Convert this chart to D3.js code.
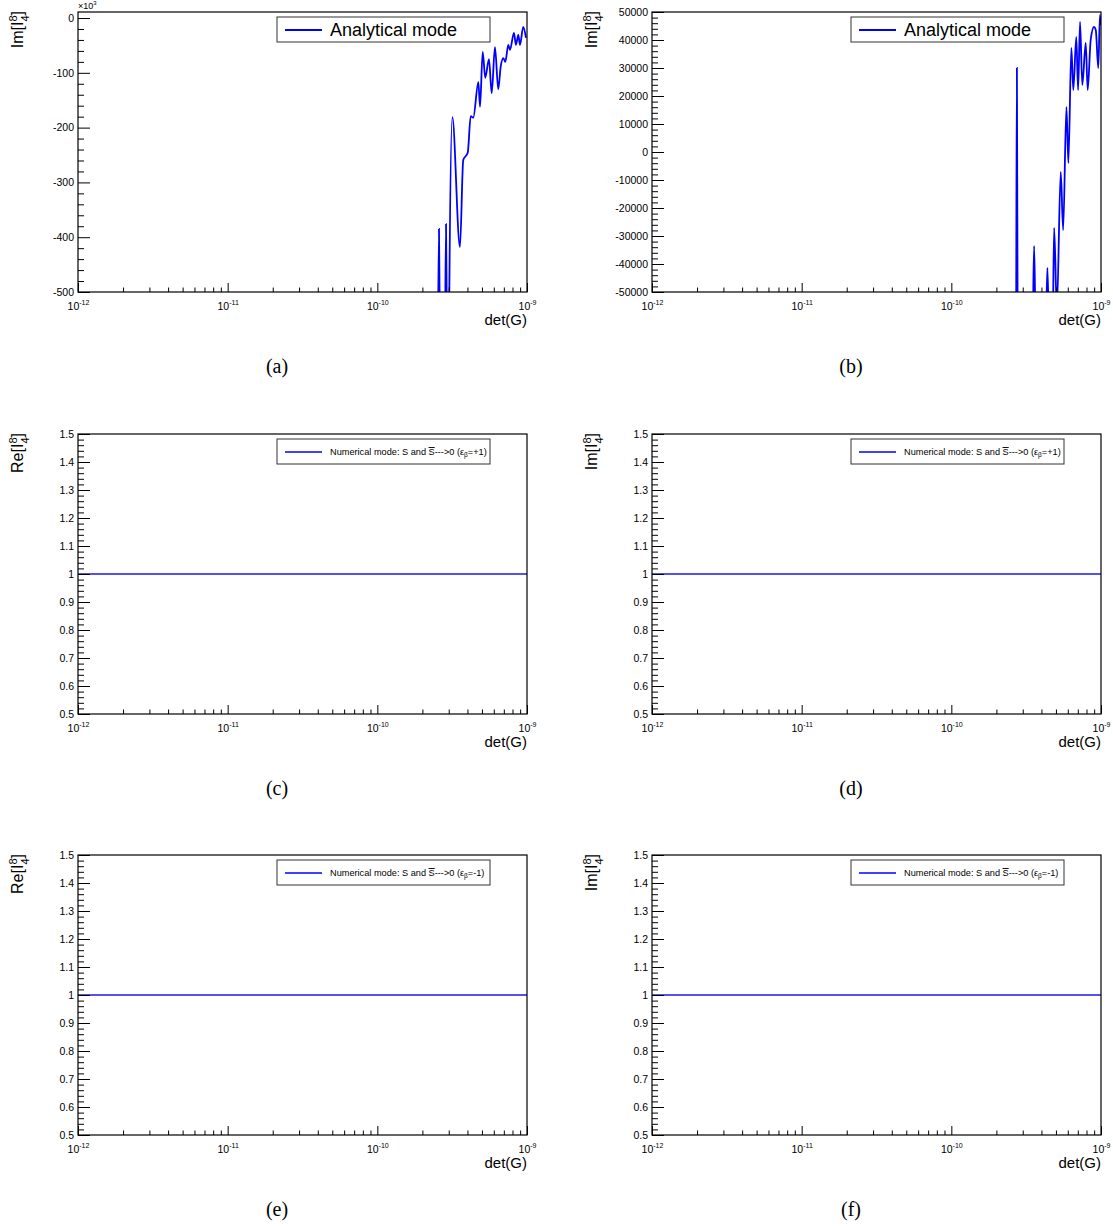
<!DOCTYPE html>
<html lang="en">
<head>
<meta charset="UTF-8">
<title>I84 vs det(G)</title>
<script src="https://cdn.jsdelivr.net/npm/d3@7"></script>
<style>
  body { margin: 0; background: #fff; }
  text { font-family: "Liberation Sans", Arial, sans-serif; }
  .cap { font-family: "Liberation Serif", "DejaVu Serif", serif; }
</style>
</head>
<body>
<div id="chart"></div>
<script>
// (a) analytical mode, Im part, in units of 10^3
var aDet = [2.45e-10, 2.523e-10, 2.582e-10, 2.642e-10, 2.74e-10, 2.812e-10, 2.877e-10, 2.944e-10, 2.99e-10,
            3.027e-10, 3.17e-10, 3.565e-10, 3.75e-10, 4.018e-10, 4.207e-10, 4.375e-10, 4.732e-10, 4.853e-10,
            5.058e-10, 5.26e-10, 5.572e-10, 5.808e-10, 6.109e-10, 6.427e-10, 6.668e-10, 6.95e-10, 7.161e-10,
            7.499e-10, 7.691e-10, 8.185e-10, 8.433e-10, 8.75e-10, 8.974e-10, 9.441e-10, 9.84e-10];
var aIm  = [-800, -700, -385, -700, -800, -700, -376, -700, -750,
            -500, -181, -418, -259, -246, -179, -182, -117, -162,
            -62, -109, -75, -137, -53, -130, -89, -73, -80,
            -49, -58, -27, -49, -31, -49, -16, -36];

// (b) analytical mode, Im part
var bDet = [2.65e-10, 2.70e-10, 2.742e-10, 2.78e-10, 3.0e-10, 3.50e-10, 3.573e-10, 3.65e-10, 4.0e-10,
            4.30e-10, 4.385e-10, 4.47e-10, 4.6e-10, 4.77e-10, 4.864e-10, 5.07e-10, 5.383e-10, 5.585e-10,
            5.875e-10, 6.053e-10, 6.339e-10, 6.531e-10, 6.839e-10, 7.031e-10, 7.244e-10, 7.499e-10,
            7.907e-10, 8.147e-10, 8.531e-10, 8.974e-10, 9.226e-10, 9.594e-10, 9.84e-10, 9.99e-10];
var bIm  = [-90000, -80000, 30000, -80000, -90000, -60000, -33571, -60000, -90000,
            -60000, -41429, -60000, -90000, -60000, -27143, -56000, -7143, -27857,
            16071, -3929, 37143, 22143, 41071, 22143, 46429, 23929,
            38929, 22143, 40000, 44643, 43571, 30000, 48929, 45357];

// (c)-(f) numerical mode
var numDet = [1e-12, 1e-9];
var numReP = [1, 1];
var numImP = [1, 1];
var numReM = [1, 1];
var numImM = [1, 1];

var xDecades = [1e-12, 1e-11, 1e-10, 1e-9];

var W = 1113, H = 1227;
var PW = 449, PH = 280;

var svg = d3.select("#chart").append("svg")
    .attr("width", W).attr("height", H);

var panels = [
    {id: "a", left: 78,  top: 12,  part: "Im", xs: aDet, ys: aIm, yDomain: [-500, 11],
     major: d3.range(-500, 1, 100), minor: d3.range(-500, 11, 20), legend: "analytical", exp: "3", width: 1.8},
    {id: "b", left: 652, top: 12,  part: "Im", xs: bDet, ys: bIm, yDomain: [-50000, 50000],
     major: d3.range(-50000, 50001, 10000), minor: d3.range(-50000, 50001, 2000), legend: "analytical", width: 1.8},
    {id: "c", left: 78,  top: 434, part: "Re", xs: numDet, ys: numReP, legend: "+1"},
    {id: "d", left: 652, top: 434, part: "Im", xs: numDet, ys: numImP, legend: "+1"},
    {id: "e", left: 78,  top: 855, part: "Re", xs: numDet, ys: numReM, legend: "-1"},
    {id: "f", left: 652, top: 855, part: "Im", xs: numDet, ys: numImM, legend: "-1"}
];
panels.forEach(function(p){
    if (!p.yDomain) {
        p.yDomain = [0.5, 1.5];
        p.major = d3.range(5, 16).map(function(i){ return i / 10; });
        p.minor = d3.range(25, 76).map(function(i){ return i / 50; });
        p.width = 1.4;
    }
});

panels.forEach(drawPanel);

function drawPanel(p) {
    var x = d3.scaleLog().domain([1e-12, 1e-9]).range([0, PW]);
    var y = d3.scaleLinear().domain(p.yDomain).range([PH, 0]);

    var g = svg.append("g").attr("transform", "translate(" + p.left + "," + p.top + ")");

    g.append("clipPath").attr("id", "clip-" + p.id)
        .append("rect").attr("width", PW).attr("height", PH);

    // curve
    var line = d3.line()
        .x(function(d){ return x(d[0]); })
        .y(function(d){ return y(d[1]); })
        .curve(d3.curveMonotoneX);
    g.append("path")
        .datum(d3.zip(p.xs, p.ys))
        .attr("clip-path", "url(#clip-" + p.id + ")")
        .attr("fill", "none")
        .attr("stroke", p.legend === "analytical" ? "#0000ff" : "#1a1ae6")
        .attr("stroke-width", p.width)
        .attr("d", line);

    // frame
    g.append("rect").attr("width", PW).attr("height", PH)
        .attr("fill", "none").attr("stroke", "#000").attr("stroke-width", 1.2);

    // y axis
    var minorY = p.minor.filter(function(v){ return p.major.indexOf(v) < 0; });
    g.append("g").call(d3.axisLeft(y).tickValues(minorY).tickSizeInner(-6).tickSizeOuter(0).tickFormat(""))
        .call(function(s){ s.select(".domain").remove(); });
    var ya = g.append("g")
        .call(d3.axisLeft(y).tickValues(p.major).tickSizeInner(-12).tickSizeOuter(0).tickPadding(4)
            .tickFormat(function(v){ return String(Math.round(v * 100) / 100); }));
    ya.select(".domain").remove();
    ya.selectAll("text").attr("font-size", 10.5).attr("font-family", "Liberation Sans, Arial, sans-serif");

    // x axis
    var minorX = x.ticks().filter(function(v){ return xDecades.indexOf(v) < 0; });
    g.append("g").attr("transform", "translate(0," + PH + ")")
        .call(d3.axisBottom(x).tickValues(minorX).tickSizeInner(-4.5).tickSizeOuter(0).tickFormat(""))
        .call(function(s){ s.select(".domain").remove(); });
    var xa = g.append("g").attr("transform", "translate(0," + PH + ")")
        .call(d3.axisBottom(x).tickValues(xDecades).tickSizeInner(-9).tickSizeOuter(0).tickPadding(0)
            .tickFormat(function(v){ return ""; }));
    xa.select(".domain").remove();
    xa.selectAll(".tick text").each(function(v){
        var t = d3.select(this).attr("y", 18).attr("dy", null)
            .attr("font-size", 10.5).attr("font-family", "Liberation Sans, Arial, sans-serif");
        t.text("10");
        t.append("tspan").attr("font-size", 7).attr("dy", -5)
            .text(String(Math.round(Math.log10(v))));
    });

    // axis title
    g.append("text").attr("x", PW).attr("y", PH + 33)
        .attr("text-anchor", "end").attr("font-size", 15).text("det(G)");

    var yl = g.append("text")
        .attr("transform", "translate(-55,-1) rotate(-90)")
        .attr("text-anchor", "end").attr("font-size", 16);
    yl.append("tspan").text(p.part + "[I");
    yl.append("tspan").attr("font-size", 11).attr("dy", -6).text("8");
    yl.append("tspan").attr("font-size", 11).attr("dx", -6.1).attr("dy", 12).text("4");
    yl.append("tspan").attr("dy", -6).text("]");

    if (p.exp) {
        var ex = g.append("text").attr("x", 0).attr("y", -3).attr("font-size", 9);
        ex.append("tspan").text("\u00d710");
        ex.append("tspan").attr("font-size", 6).attr("dy", -4).text(p.exp);
    }

    // legend
    var lg = g.append("g").attr("transform", "translate(199,5)");
    lg.append("rect").attr("width", 213).attr("height", 25)
        .attr("fill", "#fff").attr("stroke", "#333").attr("stroke-width", 1);
    lg.append("line").attr("x1", 8).attr("x2", 45).attr("y1", 13).attr("y2", 13)
        .attr("stroke", "#0000ff").attr("stroke-width", p.legend === "analytical" ? 1.8 : 1.4);
    if (p.legend === "analytical") {
        lg.append("text").attr("x", 53).attr("y", 19).attr("font-size", 18).text("Analytical mode");
    } else {
        var lt = lg.append("text").attr("x", 53).attr("y", 16).attr("font-size", 9.2);
        lt.append("tspan").text("Numerical mode: S and ");
        lt.append("tspan").style("text-decoration", "overline").text("S");
        lt.append("tspan").text("--->0 (\u03b5");
        lt.append("tspan").attr("font-size", 6.5).attr("dy", 2).text("\u03b2");
        lt.append("tspan").attr("dy", -2).text("=" + p.legend + ")");
    }

    // caption
    svg.append("text").attr("class", "cap")
        .attr("x", p.left + 199).attr("y", p.top + 361)
        .attr("text-anchor", "middle").attr("font-size", 20)
        .text("(" + p.id + ")");
}
</script>
</body>
</html>
